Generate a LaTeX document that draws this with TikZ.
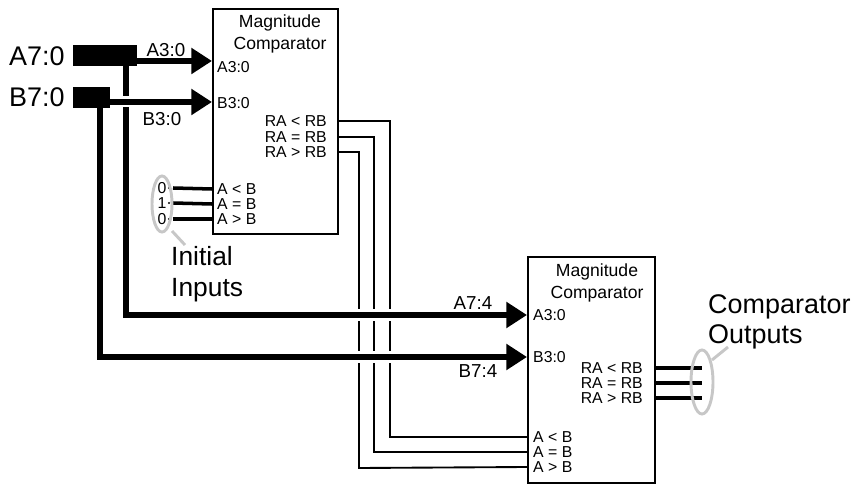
\documentclass[tikz,border=0pt]{standalone}
\usepackage{fontspec}
\setmainfont{Liberation Sans}
\usepackage{tikz}
\usetikzlibrary{arrows.meta,positioning,calc}

\begin{document}
\begin{tikzpicture}[x=0.03cm,y=-0.03cm,
  cmpbox/.style={draw,line width=1.6pt,rectangle,inner sep=0pt,anchor=north west},
  busbox/.style={fill=black,rectangle,inner sep=0pt,anchor=north west,minimum height=0.63cm},
  bus/.style={line width=5pt},
  busarrow/.style={bus,-{Triangle[length=0.62cm,width=0.75cm]}},
  wire/.style={line width=1.6pt},
  pinwire/.style={line width=3pt},
  gap/.style={draw=white,line width=0.36cm},
  callout/.style={draw=black!22,line width=2.5pt},
  big/.style={inner sep=0pt,font=\fontsize{23}{26}\selectfont},
  buslabel/.style={inner sep=0pt,font=\fontsize{16}{18}\selectfont},
  title/.style={inner sep=0pt,align=center,font=\fontsize{15}{18}\selectfont},
  pin/.style={inner sep=0pt,font=\fontsize{13.5}{15}\selectfont}]
  \useasboundingbox (0,0) rectangle (863,484);
  % comparator blocks
  \node[cmpbox,minimum width=3.75cm,minimum height=6.75cm] (cmpA) at (212,8) {};
  \node[cmpbox,minimum width=3.81cm,minimum height=6.78cm] (cmpB) at (527,256) {};
  \node[title] (titleA) at (280,34) {Magnitude\\Comparator};
  \node[title] (titleB) at (597,283) {Magnitude\\Comparator};
  % pins, first block
  \node[pin,anchor=west] (aA) at (217,67) {A3:0};
  \node[pin,anchor=west] (bA) at (217,103) {B3:0};
  \node[pin,anchor=east] (ltA) at (327,121) {RA < RB};
  \node[pin,anchor=east] (eqA) at (327,137) {RA = RB};
  \node[pin,anchor=east] (gtA) at (327,152) {RA > RB};
  \node[pin,anchor=west] (iltA) at (217,189) {A < B};
  \node[pin,anchor=west] (ieqA) at (217,204) {A = B};
  \node[pin,anchor=west] (igtA) at (217,219) {A > B};
  % pins, second block
  \node[pin,anchor=west] (aB) at (533,315) {A3:0};
  \node[pin,anchor=west] (bB) at (533,357) {B3:0};
  \node[pin,anchor=east] (ltB) at (643,368) {RA < RB};
  \node[pin,anchor=east] (eqB) at (643,383) {RA = RB};
  \node[pin,anchor=east] (gtB) at (643,398) {RA > RB};
  \node[pin,anchor=west] (iltB) at (533,437) {A < B};
  \node[pin,anchor=west] (ieqB) at (533,452) {A = B};
  \node[pin,anchor=west] (igtB) at (533,467) {A > B};
  % input buses
  \node[big,anchor=west] (nameA) at (9,56) {A7:0};
  \node[big,anchor=west] (nameB) at (9,97) {B7:0};
  \node[busbox,minimum width=1.92cm] (busA) at (73,45) {};
  \node[busbox,minimum width=1.11cm] (busB) at (73,87) {};
  % cascade wires
  \draw[wire] (cmpA.east |- ltA) -| (390,437) -- (cmpB.west |- iltB);
  \draw[wire] (cmpA.east |- eqA) -| (374,452) -- (cmpB.west |- ieqB);
  \draw[wire] (cmpA.east |- gtA) -| (359,468) -- (cmpB.west |- igtB);
  % A bus
  \coordinate (tapA) at (126,60);
  \coordinate (tapB) at (100,100);
  \draw[gap] (351,315) -- (397,315);
  \draw[busarrow] (tapA) |- (cmpB.west |- 0,315);
  \draw[gap] (351,357) -- (397,357);
  \draw[gap,line width=0.33cm] (119,102) -- (133,102);
  \draw[busarrow] (tapB) |- (cmpB.west |- 0,357);
  \draw[busarrow] (busA.east |- 0,61) -- (cmpA.west |- 0,61);
  \draw[busarrow] (busB.east |- 0,102) -- (cmpA.west |- 0,102);
  \node[buslabel] (lblA30) at (166,50) {A3:0};
  \node[buslabel] (lblB30) at (162,119) {B3:0};
  \node[buslabel] (lblA74) at (473,303) {A7:4};
  \node[buslabel] (lblB74) at (478,371) {B7:4};
  % initial inputs
  \foreach \v/\y/\p in {0/188/iltA,1/203/ieqA,0/219/igtA}{
    \node[pin] (d\p) at (162,\y) {\v};
    \fill (169,\y) circle (1.2);
    \draw[pinwire] (173,\y) -- (cmpA.west |- \p);
  }
  \draw[callout] (162,204) ellipse (10 and 28);
  \draw[callout] (172,231) -- (185,245);
  \node[big,align=left,anchor=west,font=\fontsize{22.5}{26.5}\selectfont] (initial) at (171,274) {Initial\\Inputs};
  % outputs
  \foreach \p/\y in {ltB/368,eqB/383,gtB/398}
    \draw[pinwire] (cmpB.east |- \p) -- (702,\y);
  \draw[callout] (702,382) ellipse (11 and 32);
  \draw[callout] (712,360) -- (728,347);
  \node[big,align=left,anchor=west] (outputs) at (708,322) {Comparator\\Outputs};
\end{tikzpicture}
\end{document}
